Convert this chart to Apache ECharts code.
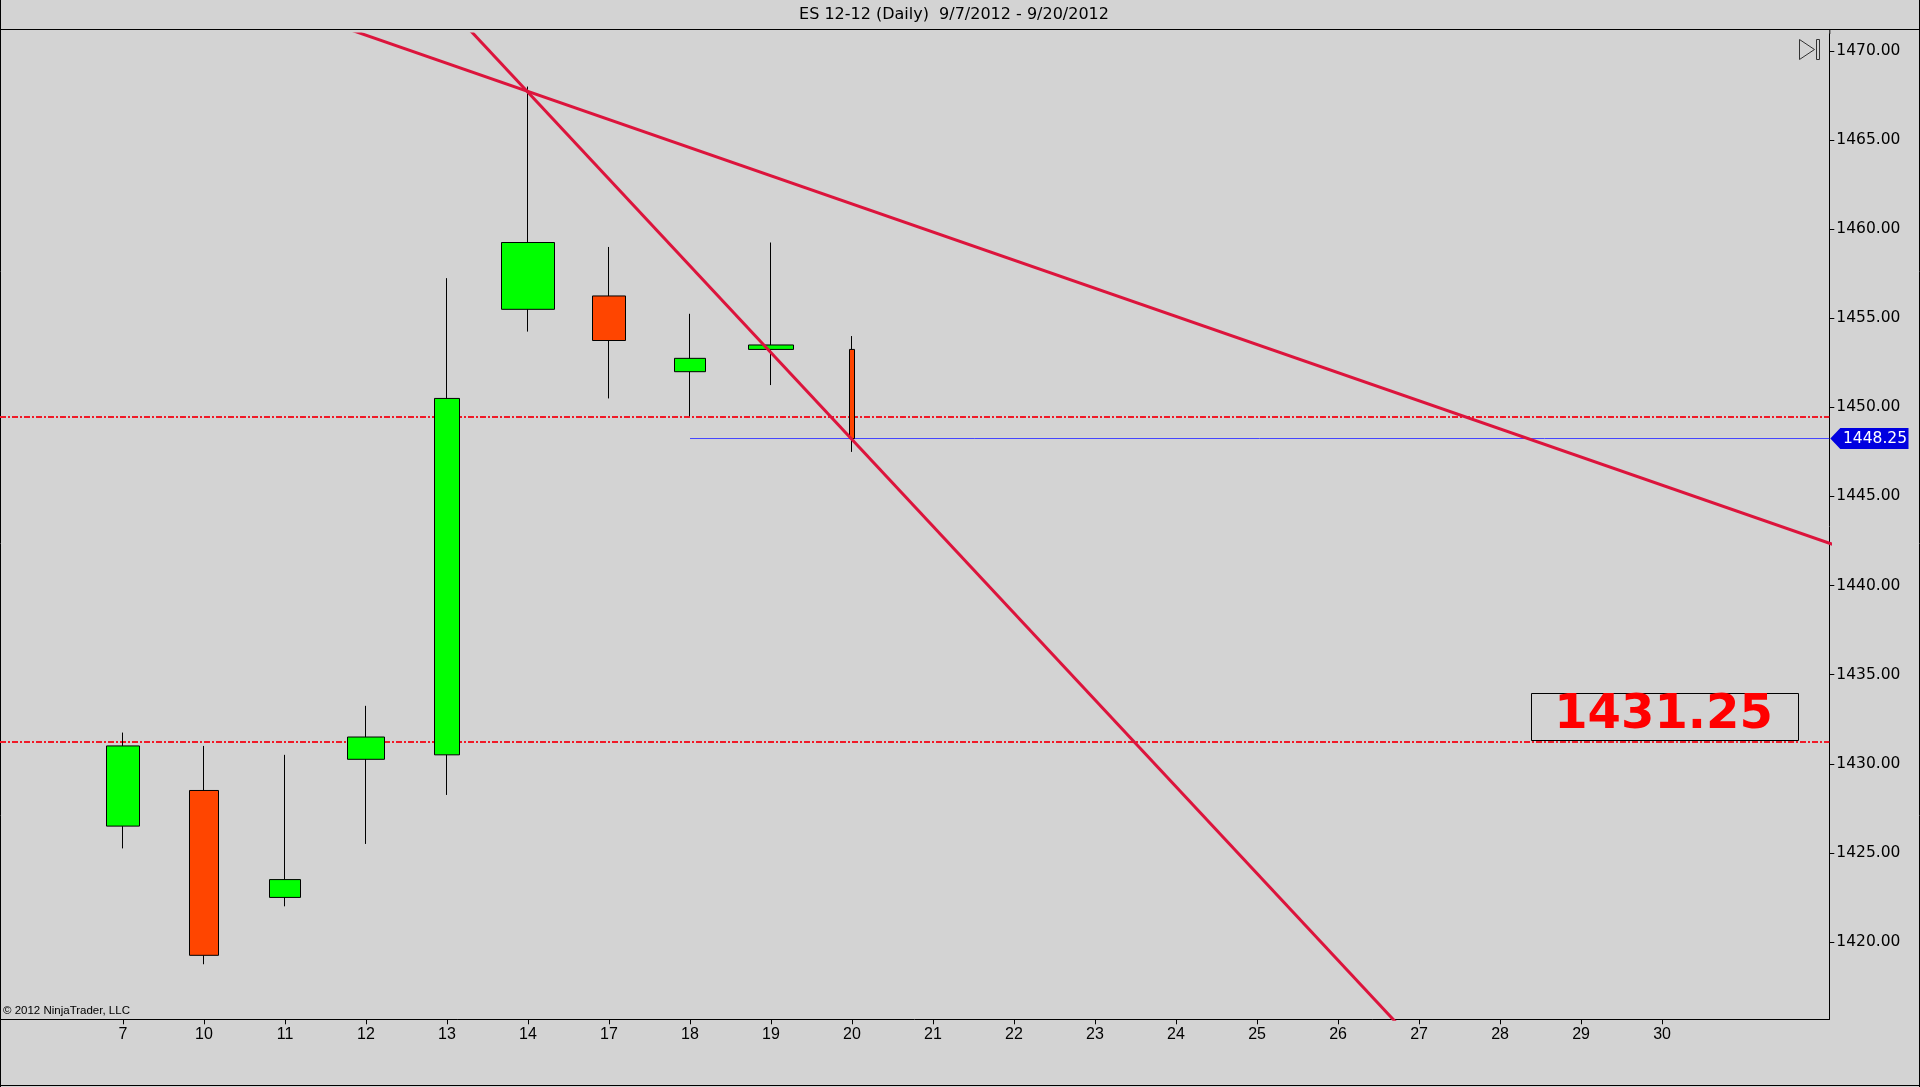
<!DOCTYPE html>
<html>
<head>
<meta charset="utf-8">
<script src="https://cdn.jsdelivr.net/npm/echarts@6/dist/echarts.min.js"></script>
<style>
html,body{margin:0;padding:0;background:#D3D3D3;}
#c{width:1920px;height:1087px;}
</style>
</head>
<body>
<div id="c"></div>
<script>
// ---------------- data ----------------
const titleText = 'ES 12-12 (Daily)  9/7/2012 - 9/20/2012';
const copyrightText = '\u00A9 2012 NinjaTrader, LLC';
const xLabels = ['7','10','11','12','13','14','17','18','19','20','21','22','23','24','25','26','27','28','29','30'];
const opens  = [1426.5, 1428.5,  1422.5, 1430.25, 1430.5,  1455.5,  1456.25, 1452.0,  1453.25, 1453.25];
const closes = [1431.0, 1419.25, 1423.5, 1431.5,  1450.5,  1459.25, 1453.75, 1452.75, 1453.5,  1448.25];
const lows   = [1425.25,1418.75, 1422.0, 1425.5,  1428.25, 1454.25, 1450.5,  1449.5,  1451.25, 1447.5];
const highs  = [1431.75,1431.0,  1430.5, 1433.25, 1457.25, 1468.0,  1459.0,  1455.25, 1459.25, 1454.0];
const yTicks = [1420, 1425, 1430, 1435, 1440, 1445, 1450, 1455, 1460, 1465, 1470];
const levelLines = [1449.5, 1431.25];
const boxedLevel = 1431.25;
const lastPrice = 1448.25;
const lastPriceFromIndex = 7;
const trendA = [[2, 1472.46], [22, 1440.9]];
const trendB = [[4, 1472.55], [16, 1414.1]];

// ---------------- style / layout ----------------
const candleWidths = [33, 29, 32, 37, 26, 54, 33, 32, 46, 5];
const X_MIN = -1.5185, X_MAX = 21.065;
const Y_MIN = 1415.66, Y_MAX = 1470.95;
const GRID = {left: 0, right: 90.7, top: 34, bottom: 67.7};
const UP = '#00FF00', DOWN = '#FF4500', TREND = '#DC143C', LEVEL = '#F01A28';

const chart = echarts.init(document.getElementById('c'), null, {renderer: 'canvas'});
const xIdx = xLabels.map((_, i) => i);

const series = [];
opens.forEach((o, i) => {
  series.push({
    type: 'candlestick',
    data: [[i, o, closes[i], lows[i], highs[i]]],
    barWidth: candleWidths[i],
    z: 5,
    silent: true,
    itemStyle: {color: UP, color0: DOWN, borderColor: '#000', borderColor0: '#000', borderWidth: 1}
  });
});
series.push({
  type: 'line', data: [[lastPriceFromIndex, lastPrice], [X_MAX, lastPrice]],
  symbol: 'none', silent: true, z: 3,
  lineStyle: {color: '#4646FF', width: 1},
  markLine: {
    symbol: 'none', silent: true, animation: false,
    label: {show: false},
    lineStyle: {color: LEVEL, width: 2, type: [6, 2, 2, 2]},
    data: levelLines.map(v => ({yAxis: v}))
  }
});
[trendA, trendB].forEach(t => series.push({
  type: 'line', data: t, symbol: 'none', silent: true, z: 6, clip: true,
  lineStyle: {color: TREND, width: 3}
}));

chart.setOption({
  animation: false,
  backgroundColor: '#D3D3D3',
  textStyle: {fontFamily: 'DejaVu Sans'},
  grid: Object.assign({containLabel: false, outerBoundsMode: 'none'}, GRID),
  xAxis: {
    type: 'value', min: X_MIN, max: X_MAX,
    axisLine: {show: true, onZero: false, lineStyle: {color: '#000', width: 1}},
    axisTick: {show: true, length: 5, customValues: xIdx, lineStyle: {color: '#000'}},
    axisLabel: {customValues: xIdx, formatter: v => xLabels[Math.round(v)], color: '#000',
      fontFamily: 'Liberation Sans', fontSize: 16, margin: 7},
    splitLine: {show: false}
  },
  yAxis: {
    type: 'value', position: 'right', min: Y_MIN, max: Y_MAX,
    axisLine: {show: true, onZero: false, lineStyle: {color: '#000', width: 1}},
    axisTick: {show: true, length: 5, customValues: yTicks, lineStyle: {color: '#000'}},
    axisLabel: {customValues: yTicks, formatter: v => v.toFixed(2), color: '#000',
      fontFamily: 'DejaVu Sans', fontSize: 15.5, margin: 7},
    splitLine: {show: false}
  },
  series: series
});

// ---------------- annotations positioned through the axes ----------------
const gridRight = 1920 - GRID.right;
const yLast = chart.convertToPixel({gridIndex: 0}, [0, lastPrice])[1];
const yBox = chart.convertToPixel({gridIndex: 0}, [0, boxedLevel])[1];
const boxRight = gridRight - 32, boxW = 266.6, boxH = 46.6;
const boxBottom = yBox - 2;

chart.setOption({
  graphic: [
    // outer frame
    {type: 'line', silent: true, shape: {x1: 0.5, y1: 0, x2: 0.5, y2: 1087}, style: {stroke: '#000', lineWidth: 1}},
    {type: 'line', silent: true, shape: {x1: 1919.5, y1: 0, x2: 1919.5, y2: 1087}, style: {stroke: '#000', lineWidth: 1}},
    {type: 'line', silent: true, shape: {x1: 0, y1: 1085.5, x2: 1920, y2: 1085.5}, style: {stroke: '#000', lineWidth: 1}},
    // title separator
    {type: 'line', silent: true, shape: {x1: 0, y1: 29.5, x2: 1920, y2: 29.5}, style: {stroke: '#000', lineWidth: 1}},
    {type: 'line', silent: true, shape: {x1: gridRight + 0.5, y1: 29.5, x2: gridRight + 0.5, y2: 34}, style: {stroke: '#000', lineWidth: 1}},
    // title
    {type: 'text', silent: true, x: 954, y: 14.5,
      style: {text: titleText, align: 'center', verticalAlign: 'middle', font: '16px "DejaVu Sans"', fill: '#000'}},
    // copyright
    {type: 'text', silent: true, x: 3, y: 1017,
      style: {text: copyrightText, align: 'left', verticalAlign: 'bottom', font: '11.5px "Liberation Sans"', fill: '#000'}},
    // scroll-to-end icon
    {type: 'polygon', silent: true, shape: {points: [[1799.5, 39.5], [1799.5, 59.5], [1814.5, 49.5]]},
      style: {fill: 'none', stroke: '#333', lineWidth: 1}},
    {type: 'rect', silent: true, shape: {x: 1816.5, y: 39.5, width: 3, height: 20},
      style: {fill: 'none', stroke: '#333', lineWidth: 1}},
    // last price marker
    {type: 'polygon', silent: true, z: 10,
      shape: {points: [[gridRight + 1, yLast], [gridRight + 11, yLast - 10.5], [1908.5, yLast - 10.5], [1908.5, yLast + 10.5], [gridRight + 11, yLast + 10.5]]},
      style: {fill: '#0000E0'}},
    {type: 'text', silent: true, z: 11, x: 1843, y: yLast + 0.5,
      style: {text: lastPrice.toFixed(2), align: 'left', verticalAlign: 'middle', font: '15.5px "DejaVu Sans"', fill: '#fff'}},
    // boxed level label
    {type: 'rect', silent: true, z: 10,
      shape: {x: Math.round(boxRight - boxW) + 0.5, y: Math.round(boxBottom - boxH) + 0.5, width: Math.round(boxW), height: Math.round(boxH)},
      style: {fill: 'none', stroke: '#000', lineWidth: 1}},
    {type: 'text', silent: true, z: 11, x: boxRight - boxW / 2 - 0.5, y: boxBottom - boxH / 2 - 1,
      style: {text: boxedLevel.toFixed(2), align: 'center', verticalAlign: 'middle', font: 'bold 48px "DejaVu Sans"', fill: '#FF0000'}}
  ]
});
</script>
</body>
</html>
